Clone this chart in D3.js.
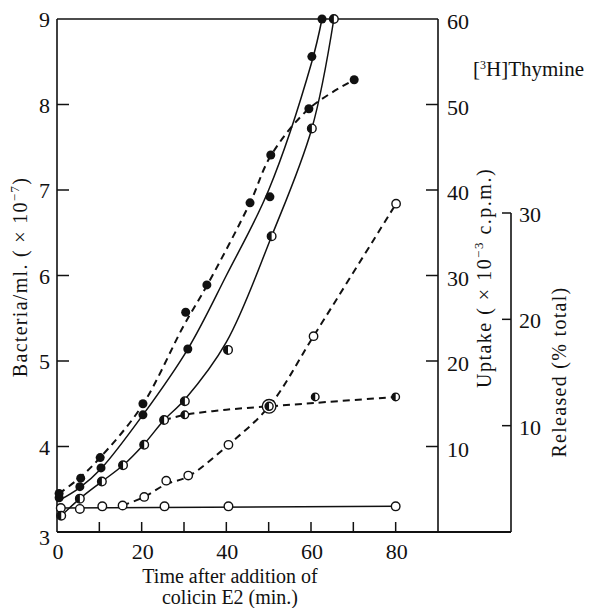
<!DOCTYPE html>
<html><head><meta charset="utf-8">
<script src="https://cdn.jsdelivr.net/npm/d3@7/dist/d3.min.js"></script>
<style>body{margin:0;background:#fff}svg{display:block}text{font-family:"Liberation Serif","Times New Roman",serif;fill:#111}</style>
</head><body><svg id="c" width="592" height="608"></svg>
<script>
// ---- data (time in min, value on left axis: bacteria/ml x10^-7) ----
const xTicks = [0,20,40,60,80];
const xMinorTicks = [10,20,30,40,50,60,70,80];
const yTicks = [3,4,5,6,7,8,9];
const uptakeTicks = [10,20,30,40,50,60];
const releasedTicks = [10,20,30];

// dashed, filled circles
const seriesA = [[0.5,3.45],[5.6,3.63],[10.2,3.87],[20.3,4.5],[30.4,5.57],[35.4,5.89],[45.6,6.85],[50.5,7.41],[59.5,7.95],[70.2,8.29]];
const curveA  = [[0.5,3.45],[5.5,3.64],[10,3.86],[20,4.47],[30,5.42],[35.4,5.88],[45.6,6.85],[50.5,7.40],[59.5,7.95],[70.2,8.29]];
// solid, filled circles
const seriesB = [[0.5,3.40],[5.4,3.53],[10.4,3.75],[20.3,4.37],[30.9,5.14],[50.3,6.92],[60.2,8.56],[62.6,9.0]];
const curveB  = [[0.5,3.37],[5.4,3.52],[10.4,3.74],[20.3,4.37],[30.9,5.14],[40,6.0],[50,7.0],[60.2,8.5],[62.6,9.0]];
// solid, half-filled circles
const seriesC = [[1,3.19],[5.4,3.39],[10.6,3.59],[15.6,3.78],[20.6,4.02],[25.3,4.31],[30.2,4.53],[40.4,5.13],[50.7,6.46],[60.2,7.72],[65.4,9.0]];
const curveC  = [[1,3.19],[5.4,3.39],[10.6,3.59],[15.6,3.78],[20.6,4.03],[25.3,4.31],[30.2,4.55],[40,5.22],[50.7,6.46],[60.2,7.72],[65.4,9.0]];
// dashed, half-filled circles (small)
const seriesD = [[30.2,4.37],[61,4.58],[80,4.58]];
const curveD  = [[25.3,4.31],[30.2,4.37],[40,4.43],[50.1,4.47],[61,4.51],[80,4.58]];
// dashed, open circles
const seriesE = [[20.6,3.41],[25.8,3.60],[31,3.66],[40.5,4.02],[60.6,5.29],[80.1,6.84]];
const curveE  = [[15.5,3.31],[20.6,3.41],[25.8,3.56],[31,3.65],[40.5,4.02],[50.1,4.47],[60.6,5.29],[80.1,6.84]];
// solid, open circles
const seriesF = [[0.9,3.28],[5.4,3.27],[10.7,3.30],[15.5,3.31],[25.4,3.30],[40.5,3.30],[80,3.30]];
const curveF  = [[0.9,3.28],[80,3.30]];
// shared point (double circle)
const sharedPoint = [[50.1,4.47]];

const svg = d3.select("#c");
const x = d3.scaleLinear().domain([0,90]).range([57,438]);
const y = d3.scaleLinear().domain([3,9]).range([532,19]);
const yU = d3.scaleLinear().domain([0,60]).range([532,19]);
const yR = d3.scaleLinear().domain([0,30]).range([532,213]);

// frame: left axis + top line + right uptake axis
const g = svg.append("g");
g.append("line").attr("x1",x(0)).attr("x2",x(90)).attr("y1",y(9)).attr("y2",y(9)).attr("stroke","#111").attr("stroke-width",1.3);
g.append("line").attr("x1",x(0)).attr("x2",x(0)).attr("y1",y(9)).attr("y2",y(3)).attr("stroke","#111").attr("stroke-width",1.6);
g.append("line").attr("x1",x(90)).attr("x2",x(90)).attr("y1",yU(60)).attr("y2",yU(0)).attr("stroke","#111").attr("stroke-width",1.6);
g.append("line").attr("x1",511).attr("x2",511).attr("y1",yR(30)).attr("y2",yR(0)).attr("stroke","#111").attr("stroke-width",1.6);
g.append("line").attr("x1",x(0)).attr("x2",511).attr("y1",y(3)).attr("y2",y(3)).attr("stroke","#111").attr("stroke-width",2.2);

// left ticks
g.selectAll(".lt").data(yTicks.filter(d=>d>3&&d<9)).join("line")
  .attr("x1",x(0)).attr("x2",x(0)+12).attr("y1",d=>y(d)).attr("y2",d=>y(d)).attr("stroke","#111").attr("stroke-width",1.5);
g.selectAll(".ll").data(yTicks).join("text")
  .attr("x",50).attr("y",d=>y(d)+ (d===3?13:8)).attr("text-anchor","end").attr("font-size",22).text(d=>d);
// bottom ticks
g.selectAll(".bt").data(xMinorTicks).join("line")
  .attr("x1",d=>x(d)).attr("x2",d=>x(d)).attr("y1",y(3)).attr("y2",y(3)-10).attr("stroke","#111").attr("stroke-width",1.5);
g.selectAll(".bl").data(xTicks).join("text")
  .attr("x",d=>x(d)+1).attr("y",559).attr("text-anchor","middle").attr("font-size",22).text(d=>d);
// uptake ticks
g.selectAll(".ut").data(uptakeTicks.filter(d=>d<60)).join("line")
  .attr("x1",x(90)-12).attr("x2",x(90)).attr("y1",d=>yU(d)).attr("y2",d=>yU(d)).attr("stroke","#111").attr("stroke-width",1.5);
g.selectAll(".ul").data(uptakeTicks).join("text")
  .attr("x",447).attr("y",d=>yU(d)+10).attr("font-size",22).text(d=>d);
// released ticks
g.selectAll(".rt").data(releasedTicks).join("line")
  .attr("x1",502).attr("x2",511).attr("y1",d=>yR(d)).attr("y2",d=>yR(d)).attr("stroke","#111").attr("stroke-width",1.5);
g.selectAll(".rl").data(releasedTicks).join("text")
  .attr("x",519).attr("y",d=>yR(d)+9).attr("font-size",22).text(d=>d);

// titles
svg.append("text").attr("x",230).attr("y",583).attr("text-anchor","middle").attr("font-size",20).text("Time after addition of");
svg.append("text").attr("x",230).attr("y",604).attr("text-anchor","middle").attr("font-size",20).text("colicin E2 (min.)");

function rotTitle(cx, cy, parts, ls){
  const t = svg.append("text").attr("transform",`translate(${cx},${cy}) rotate(-90)`)
    .attr("text-anchor","middle").attr("font-size",20).attr("letter-spacing",ls).attr("dy","0.35em");
  parts.forEach(p=>{
    const s = t.append("tspan").text(p.t);
    if(p.sup){ s.attr("font-size",13).attr("dy",-8); }
    if(p.after){ s.attr("dy",8); }
  });
}
rotTitle(20,277,[{t:"Bacteria/ml. ( × 10"},{t:"−7",sup:true},{t:")",after:true}],1.3);
rotTitle(484,278,[{t:"Uptake ( × 10"},{t:"−3",sup:true},{t:" c.p.m.)",after:true}],1.5);
rotTitle(559,372,[{t:"Released (% total)"}],1.3);
const th = svg.append("text").attr("x",473).attr("y",76).attr("font-size",21);
th.append("tspan").text("[");
th.append("tspan").text("3").attr("font-size",12).attr("dy",-7);
th.append("tspan").text("H]Thymine").attr("dy",7);

// lines
const line = d3.line().x(d=>x(d[0])).y(d=>y(d[1])).curve(d3.curveCatmullRom.alpha(0.5));
const lines = [
  {d:curveA,dash:true},{d:curveB,dash:false},{d:curveC,dash:false},
  {d:curveD,dash:true},{d:curveE,dash:true},{d:curveF,dash:false}
];
svg.append("g").selectAll("path").data(lines).join("path")
  .attr("d",l=>line(l.d)).attr("fill","none").attr("stroke","#111")
  .attr("stroke-width",l=>l.dash?2:1.5).attr("stroke-dasharray",l=>l.dash?"7,5":null);

// markers
const mg = svg.append("g");
function filled(data,r){ mg.append("g").selectAll("circle").data(data).join("circle")
  .attr("cx",d=>x(d[0])).attr("cy",d=>y(d[1])).attr("r",r).attr("fill","#111"); }
function open(data,r){ mg.append("g").selectAll("circle").data(data).join("circle")
  .attr("cx",d=>x(d[0])).attr("cy",d=>y(d[1])).attr("r",r).attr("fill","#fff").attr("stroke","#111").attr("stroke-width",1.4); }
function half(data,r){
  open(data,r);
  mg.append("g").selectAll("path").data(data).join("path")
    .attr("transform",d=>`translate(${x(d[0])},${y(d[1])})`)
    .attr("d",`M0,${-r}A${r},${r} 0 0 0 0,${r}Z`).attr("fill","#111");
}
open(seriesF,4.3);
open(seriesE,4.2);
half(seriesC,4.3);
half(seriesD,3.8);
filled(seriesB,4.5);
filled(seriesA,4.5);
open(sharedPoint,6.8);
half(sharedPoint,4);
</script></body></html>
